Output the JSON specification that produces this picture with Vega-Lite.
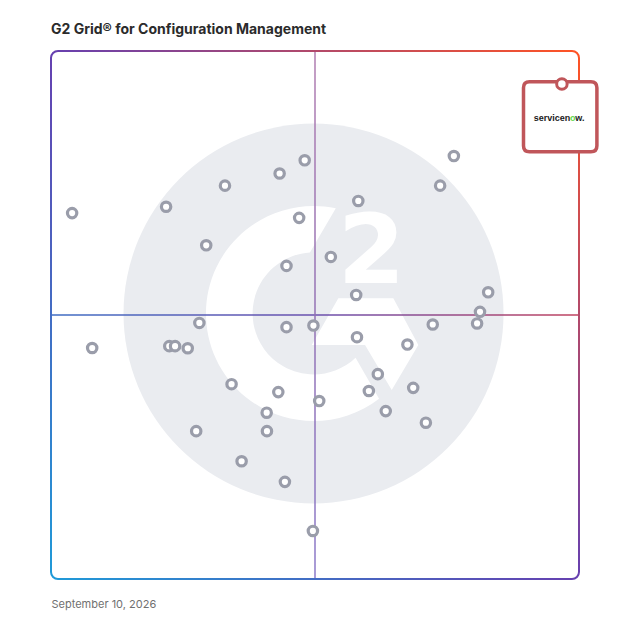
{
  "$schema": "https://vega.github.io/schema/vega-lite/v6.json",
  "autosize": {"type": "none"},
  "width": 528,
  "height": 528,
  "padding": {"left": 51, "top": 51, "right": 49, "bottom": 49},
  "background": "#ffffff",
  "title": {
    "text": "G2 Grid® for Configuration Management",
    "anchor": "start",
    "frame": "group",
    "font": "Inter",
    "fontSize": 14,
    "fontWeight": "bold",
    "color": "#2b2b2b",
    "offset": 13
  },
  "datasets": {
    "products": [
      {"x": 4.0, "y": 69.3}, {"x": 21.8, "y": 70.5}, {"x": 32.95, "y": 74.5}, {"x": 43.3, "y": 76.8},
      {"x": 48.05, "y": 79.3}, {"x": 76.3, "y": 80.1}, {"x": 73.7, "y": 74.5}, {"x": 58.2, "y": 71.6},
      {"x": 47.0, "y": 68.4}, {"x": 29.4, "y": 63.2}, {"x": 53.0, "y": 61.0}, {"x": 44.6, "y": 59.3},
      {"x": 57.8, "y": 53.8}, {"x": 82.8, "y": 54.3}, {"x": 81.25, "y": 50.6}, {"x": 80.7, "y": 48.4},
      {"x": 72.3, "y": 48.2}, {"x": 28.1, "y": 48.5}, {"x": 44.6, "y": 47.7}, {"x": 49.7, "y": 48.0},
      {"x": 57.95, "y": 45.8}, {"x": 67.5, "y": 44.4}, {"x": 7.8, "y": 43.75}, {"x": 22.4, "y": 44.1},
      {"x": 23.5, "y": 44.1}, {"x": 25.9, "y": 43.7}, {"x": 34.2, "y": 36.9}, {"x": 43.05, "y": 35.4},
      {"x": 50.8, "y": 33.7}, {"x": 61.9, "y": 38.8}, {"x": 60.2, "y": 35.6}, {"x": 68.6, "y": 36.2},
      {"x": 63.4, "y": 31.8}, {"x": 71.0, "y": 29.6}, {"x": 40.85, "y": 31.5}, {"x": 40.9, "y": 28.0},
      {"x": 27.5, "y": 28.0}, {"x": 36.1, "y": 22.3}, {"x": 44.3, "y": 18.4}, {"x": 49.6, "y": 9.1}
    ],
    "leader": [
      {"x": 96.76, "y": 93.75, "name": "ServiceNow"}
    ]
  },
  "layer": [
    {
      "data": {"values": [{}]},
      "mark": {"type": "point", "shape": "circle", "filled": true, "fill": "#eaecf0", "strokeWidth": 0, "size": 144400, "opacity": 1},
      "encoding": {
        "x": {"datum": 49.72, "type": "quantitative", "scale": {"domain": [0, 100], "nice": false, "zero": false},
              "axis": {"title": "September 10, 2026", "domain": false, "ticks": false, "labels": false, "grid": false,
                       "titleAnchor": "start", "titleAlign": "left", "titleFont": "Inter", "titleFontSize": 11,
                       "titleFontWeight": "normal", "titleColor": "#707070", "titlePadding": 19}},
        "y": {"datum": 50.28, "type": "quantitative", "scale": {"domain": [0, 100], "nice": false, "zero": false}, "axis": null}
      }
    },
    {
      "data": {"values": [{}]},
      "mark": {"type": "point", "filled": true, "fill": "#ffffff", "strokeWidth": 0, "size": 144400, "opacity": 1,
               "shape": "M 0.1173 -0.5537 A 0.566 0.566 0 1 0 0.345 0.4487 L 0.2213 0.2324 A 0.321 0.321 0 1 1 -0.0189 -0.3211 Z M 0.1305 -0.08 L 0.42 -0.08 L 0.5516 0.1658 L 0.4116 0.4026 L 0.2711 0.1658 L -0.0095 0.1658 Z"},
      "encoding": {
        "x": {"datum": 49.72, "type": "quantitative"},
        "y": {"datum": 50.28, "type": "quantitative"}
      }
    },
    {
      "data": {"values": [{"t": "2"}]},
      "mark": {"type": "text", "font": "DejaVu Sans", "fontSize": 97, "fontWeight": "bold", "fill": "#ffffff", "align": "center", "baseline": "alphabetic"},
      "encoding": {
        "x": {"datum": 60.7, "type": "quantitative"},
        "y": {"datum": 56.1, "type": "quantitative"},
        "text": {"field": "t"}
      }
    },
    {
      "data": {"values": [{}]},
      "mark": {"type": "rect", "fill": {"gradient": "linear", "x1": 0, "y1": 0, "x2": 1, "y2": 0,
               "stops": [{"offset": 0, "color": "#3f6dc3"}, {"offset": 0.5, "color": "#6a50ae"}, {"offset": 1, "color": "#c0435f"}]}},
      "encoding": {
        "x": {"datum": 0, "type": "quantitative"}, "x2": {"datum": 100},
        "y": {"datum": 49.86, "type": "quantitative"}, "y2": {"datum": 50.14}
      }
    },
    {
      "data": {"values": [{}]},
      "mark": {"type": "rect", "fill": {"gradient": "linear", "x1": 0, "y1": 0, "x2": 0, "y2": 1,
               "stops": [{"offset": 0, "color": "#b07cb0"}, {"offset": 0.5, "color": "#9270b4"}, {"offset": 1, "color": "#8a78c8"}]}},
      "encoding": {
        "x": {"datum": 49.86, "type": "quantitative"}, "x2": {"datum": 50.14},
        "y": {"datum": 0, "type": "quantitative"}, "y2": {"datum": 100}
      }
    },
    {
      "data": {"values": [{}]},
      "mark": {"type": "rect", "fill": "transparent", "strokeWidth": 2, "cornerRadius": 7,
               "stroke": {"gradient": "linear", "x1": 0, "y1": 1, "x2": 1, "y2": 0,
                          "stops": [{"offset": 0, "color": "#1f9ad8"}, {"offset": 0.5, "color": "#6640b0"}, {"offset": 1, "color": "#ff5324"}]}},
      "encoding": {
        "x": {"datum": 0, "type": "quantitative"}, "x2": {"datum": 100},
        "y": {"datum": 0, "type": "quantitative"}, "y2": {"datum": 100}
      }
    },
    {
      "data": {"name": "products"},
      "mark": {"type": "point", "shape": "circle", "filled": true, "fill": "#ffffff", "stroke": "#9a9daa", "strokeWidth": 3.2, "size": 88, "opacity": 1},
      "encoding": {
        "x": {"field": "x", "type": "quantitative"},
        "y": {"field": "y", "type": "quantitative"}
      }
    },
    {
      "data": {"name": "leader"},
      "mark": {"type": "point", "filled": true, "fill": "#ffffff", "stroke": "#c0565a", "strokeWidth": 3.5, "size": 5388, "opacity": 1,
               "shape": "M -0.883 -0.063 H 0.791 Q 0.954 -0.063 0.954 0.1 V 1.682 Q 0.954 1.845 0.791 1.845 H -0.883 Q -1.046 1.845 -1.046 1.682 V 0.1 Q -1.046 -0.063 -0.883 -0.063 Z"},
      "encoding": {
        "x": {"field": "x", "type": "quantitative"},
        "y": {"field": "y", "type": "quantitative"}
      }
    },
    {
      "data": {"name": "leader"},
      "mark": {"type": "point", "shape": "circle", "filled": true, "fill": "#ffffff", "stroke": "#c0565a", "strokeWidth": 3, "size": 110, "opacity": 1},
      "encoding": {
        "x": {"field": "x", "type": "quantitative"},
        "y": {"field": "y", "type": "quantitative"}
      }
    },
    {
      "data": {"name": "leader"},
      "mark": {"type": "text", "text": "servicen", "font": "Liberation Sans", "fontSize": 9, "fontWeight": "bold", "fill": "#1a1a1a", "align": "right", "baseline": "middle", "dx": 8.3, "dy": 34},
      "encoding": {
        "x": {"field": "x", "type": "quantitative"},
        "y": {"field": "y", "type": "quantitative"}
      }
    },
    {
      "data": {"name": "leader"},
      "mark": {"type": "text", "text": "o", "font": "Liberation Sans", "fontSize": 9, "fontWeight": "bold", "fill": "#62d84e", "align": "center", "baseline": "middle", "dx": 10.9, "dy": 34},
      "encoding": {
        "x": {"field": "x", "type": "quantitative"},
        "y": {"field": "y", "type": "quantitative"}
      }
    },
    {
      "data": {"name": "leader"},
      "mark": {"type": "text", "text": "w.", "font": "Liberation Sans", "fontSize": 9, "fontWeight": "bold", "fill": "#1a1a1a", "align": "left", "baseline": "middle", "dx": 13.4, "dy": 34},
      "encoding": {
        "x": {"field": "x", "type": "quantitative"},
        "y": {"field": "y", "type": "quantitative"}
      }
    }
  ],
  "config": {
    "view": {"stroke": null},
    "axisY": {"disable": true}
  }
}
